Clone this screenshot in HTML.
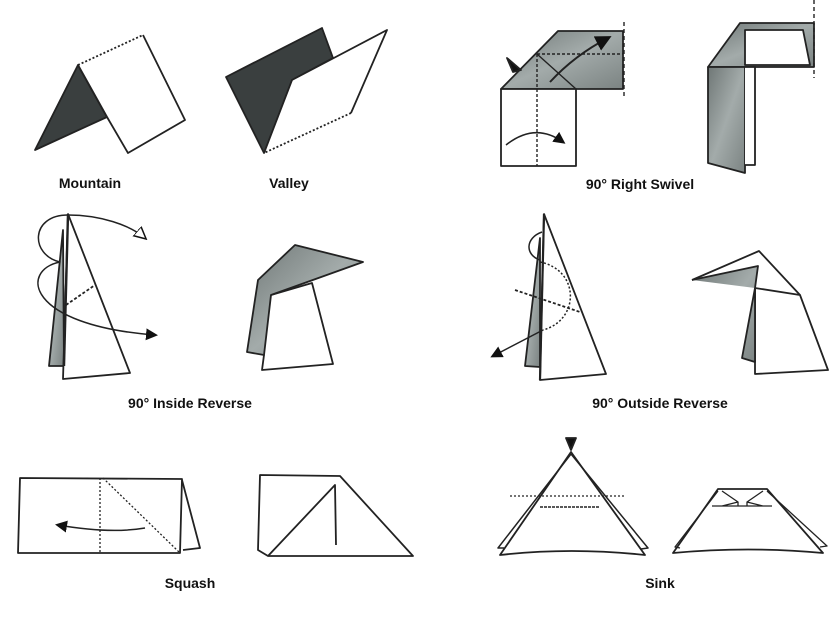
<!DOCTYPE html>
<html><head><meta charset="utf-8"><style>
html,body{margin:0;padding:0;background:#fff}
svg{display:block}
text{font-family:"Liberation Sans",sans-serif;font-weight:bold;font-size:14px;fill:#111}
</style></head><body>
<svg width="831" height="634" viewBox="0 0 831 634" xmlns="http://www.w3.org/2000/svg">
<defs>
<linearGradient id="g" x1="0" y1="0" x2="1" y2="1"><stop offset="0" stop-color="#6f7776"/><stop offset=".5" stop-color="#a3abaa"/><stop offset="1" stop-color="#7b8382"/></linearGradient>
<marker id="ah" markerWidth="8" markerHeight="8" refX="6" refY="4" orient="auto"><path d="M0,0 L8,4 L0,8 Z" fill="#111"/></marker>
<marker id="ho" markerWidth="9" markerHeight="9" refX="7" refY="4.5" orient="auto"><path d="M0,0.5 L8,4.5 L0,8.5 Z" fill="#fff" stroke="#111"/></marker>
</defs>
<g stroke="#222" stroke-width="1.8" stroke-linejoin="round" fill="none">
<!-- Mountain -->
<path d="M35,150 L78,65 L107,117 Z" fill="#3a3f3f"/>
<path d="M78,65 L107,117 L128,153 L185,120 L143,35" fill="#fff"/>
<path d="M78,65 L143,35" stroke-dasharray="2,2"/>
<!-- Valley -->
<path d="M226,77 L322,28 L333,58 L292,80 L264,153 Z" fill="#3a3f3f"/>
<path d="M292,80 L387,30 L351,113" fill="#fff"/>
<path d="M351,113 L264,153" stroke-dasharray="2,2"/>
<!-- Right swivel -->
<path d="M501,89 L558,31 L623,31 L623,89 Z" fill="url(#g)"/>
<rect x="501" y="89" width="75" height="77" fill="#fff"/>
<path d="M537,54 L623,54 M537,54 L537,166" stroke-dasharray="3,2" stroke-width="1.4"/>
<path d="M537,54 L576,89" stroke-width="1.4"/>
<path d="M624,22 L624,98" stroke-dasharray="4,3" stroke-width="1.4"/>
<path d="M550,82 Q575,55 608,38" marker-end="url(#ah)" stroke-width="2"/>
<path d="M506,145 Q535,122 563,142" marker-end="url(#ah)" stroke-width="1.5"/>
<path d="M507,58 L521,70 L513,72 Z" fill="#111"/>
<path d="M708,67 L740,23 L814,23 L814,67 Z" fill="url(#g)"/>
<path d="M745,30 L803,30 L810,65 L745,65 Z" fill="#fff"/>
<path d="M708,67 L745,67 L745,173 L708,163 Z" fill="url(#g)"/>
<path d="M745,67 L755,67 L755,165 L745,165" fill="#fff"/>
<path d="M814,0 L814,78" stroke-dasharray="4,3" stroke-width="1.4"/>
<!-- Inside reverse -->
<path d="M49,366 L63,230 L64,366 Z" fill="url(#g)"/>
<path d="M68,214 L130,373 L63,379 Z" fill="#fff"/>
<path d="M68,214 L64,366" stroke-width="2.4"/>
<path d="M66,305 L95,285" stroke-dasharray="3,2"/>
<path d="M68,215 C30,215 30,255 60,262 C20,270 25,325 155,335" marker-end="url(#ah)" stroke-width="1.5"/>
<path d="M68,215 C100,215 130,225 145,238" marker-end="url(#ho)" stroke-width="1.5"/>
<path d="M271,295 L312,283 L333,364 L262,370 L264,355" fill="#fff"/>
<path d="M247,352 L258,280 L295,245 L363,262 L271,295 L264,355 Z" fill="url(#g)"/>
<!-- Outside reverse -->
<path d="M525,366 L540,238 L540,367 Z" fill="url(#g)"/>
<path d="M544,214 L606,374 L540,380 Z" fill="#fff"/>
<path d="M544,214 L540,380" stroke-width="2.2"/>
<path d="M515,290 L580,312" stroke-dasharray="3,2"/>
<path d="M542,232 C525,238 525,255 540,260" stroke-width="1.5"/>
<path d="M540,262 C580,270 580,320 543,330" stroke-dasharray="2,2" stroke-width="1.5"/>
<path d="M543,330 L493,356" marker-end="url(#ah)" stroke-width="1.5"/>
<path d="M692,280 L759,251 L800,295" fill="#fff"/>
<path d="M755,288 L800,295 L828,370 L755,374 Z" fill="#fff"/>
<path d="M692,280 L758,266 L755,288 L742,358 L755,362 L755,288" fill="url(#g)"/>
<!-- Squash -->
<path d="M182,480 L200,548 L183,550" fill="#fff"/>
<path d="M20,478 L182,479 L180,553 L18,553 Z" fill="#fff"/>
<path d="M100,478 L100,553 M103,478 L180,553" stroke-dasharray="2,2" stroke-width="1.3"/>
<path d="M145,528 Q110,534 58,525" marker-end="url(#ah)" stroke-width="1.5"/>
<path d="M260,475 L340,476 L413,556 L268,556 L258,550 Z" fill="#fff"/>
<path d="M268,556 L335,485 L336,545" fill="none"/>
<!-- Sink -->
<path d="M571,452 L500,555 Q571,547 645,555 Z" fill="#fff"/>
<path d="M571,454 L498,548 L504,548 M571,454 L648,548 L641,549" stroke-width="1.5"/>
<path d="M566,438 L576,438 L571,450 Z" fill="#111"/>
<path d="M510,496 L625,496" stroke-dasharray="2,2" stroke-width="1.3"/>
<path d="M540,507 L600,507" stroke-dasharray="3,1" stroke-width="1.5"/>
<path d="M718,489 L767,489 L823,553 Q748,546 673,553 Z" fill="#fff"/>
<path d="M718,491 L675,547 L680,548 M767,491 L827,546 L820,547" stroke-width="1.3"/>
<path d="M712,506 L772,506 M722,491 L738,502 L722,506 M763,491 L747,502 L763,506 M738,502 L738,506 M747,502 L747,506" stroke-width="1.3"/>
</g>
<text x="90" y="188" text-anchor="middle">Mountain</text>
<text x="289" y="188" text-anchor="middle">Valley</text>
<text x="640" y="189" text-anchor="middle">90° Right Swivel</text>
<text x="190" y="408" text-anchor="middle">90° Inside Reverse</text>
<text x="660" y="408" text-anchor="middle">90° Outside Reverse</text>
<text x="190" y="588" text-anchor="middle">Squash</text>
<text x="660" y="588" text-anchor="middle">Sink</text>
</svg>
</body></html>
